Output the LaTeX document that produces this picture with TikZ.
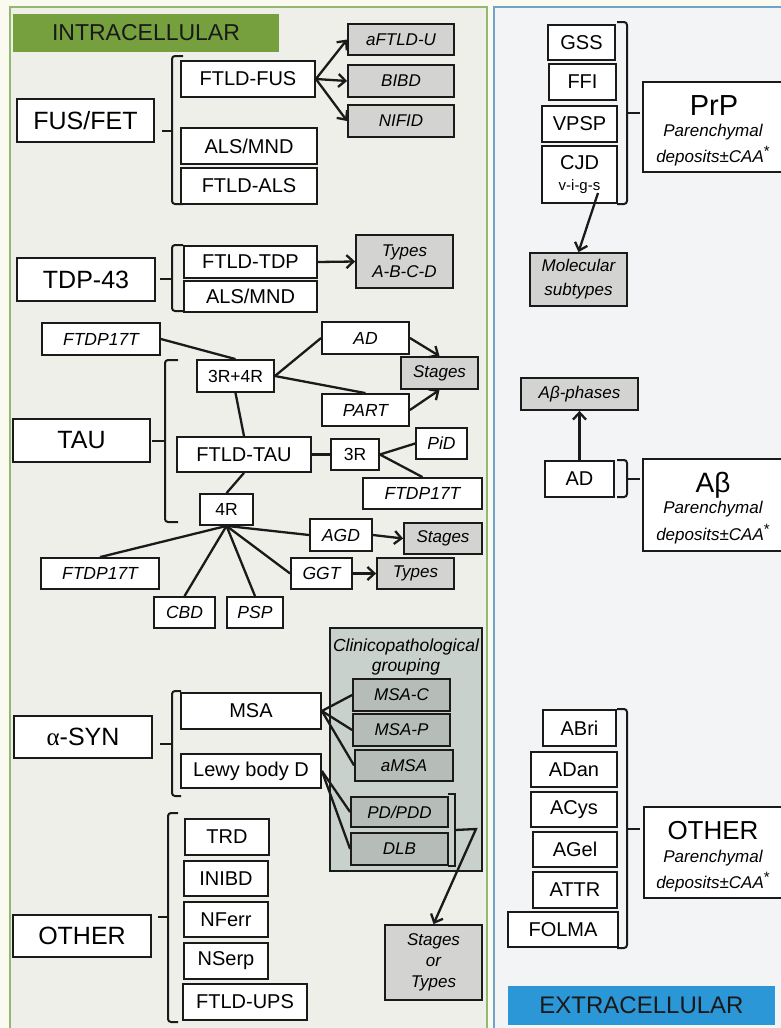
\documentclass[tikz,border=0pt]{standalone}
\usepackage{fontspec}
\setmainfont{Liberation Sans}
\newfontfamily\grk{Liberation Serif}
\usetikzlibrary{arrows.meta,calc}
\definecolor{ink}{HTML}{1A1A1A}
\definecolor{cream}{HTML}{FBFAF0}
\definecolor{lpanel}{HTML}{EEEFE9}
\definecolor{lborder}{HTML}{93B872}
\definecolor{rpanel}{HTML}{F3F4F6}
\definecolor{rborder}{HTML}{6FA3C9}
\definecolor{hgreen}{HTML}{76A03D}
\definecolor{hblue}{HTML}{2C97D7}
\definecolor{graybox}{HTML}{D3D3D1}
\definecolor{clinfill}{HTML}{C8D1CB}
\definecolor{clinbox}{HTML}{B6BDB8}
\newcommand\fs[2]{\fontsize{#1}{#2}\selectfont}
\newcommand\caast{\raisebox{6pt}{\upshape\fs{15}{15}*}}
\begin{document}
\begin{tikzpicture}[x=1pt,y=-1pt,
  bx/.style={draw=ink, line width=1.8pt, fill=white, inner sep=0pt, font=\fs{20}{24}},
  big/.style={bx, font=\fs{25}{28}},
  ibx/.style={bx, font=\fs{17.5}{21}\itshape},
  gbx/.style={bx, fill=graybox, font=\fs{17}{21}\itshape},
  cbx/.style={bx, fill=clinbox, font=\fs{17}{21}\itshape},
  ln/.style={draw=ink, line width=2.3pt},
  arr/.style={ln, -{Straight Barb[length=7pt,width=13pt]}},
  brk/.style={draw=ink, line width=2pt, rounded corners=3pt},
  txt/.style={inner sep=0pt, anchor=base},
]
\useasboundingbox (0,0) rectangle (781,1028);
% backgrounds
\fill[cream] (0,0) rectangle (781,1028);
\draw[lborder, fill=lpanel, line width=2pt] (10,7) rectangle (487,1035);
\draw[rborder, fill=rpanel, line width=2pt] (494,7) rectangle (790,1035);
\node[fill=hgreen, minimum width=266pt, minimum height=38pt, inner sep=0pt, font=\fs{23}{26}, text=black!90] (hdrL) at (146,33) {INTRACELLULAR};
\node[fill=hblue, minimum width=267pt, minimum height=39pt, inner sep=0pt, font=\fs{24}{26}, text=black!90] (hdrR) at (641.5,1005.5) {EXTRACELLULAR};

% ---------- FUS/FET ----------
\node[big, minimum width=137pt, minimum height=43pt] (fusfet) at (85.5,120.5) {FUS/FET};
\node[bx, minimum width=134pt, minimum height=36pt] (ftldfus) at (248,79) {FTLD-FUS};
\node[bx, minimum width=136pt, minimum height=36pt] (alsmndA) at (249,146) {ALS/MND};
\node[bx, minimum width=136pt, minimum height=36pt] (ftldals) at (249,186) {FTLD-ALS};
\node[gbx, minimum width=106pt, minimum height=31pt] (aftldu) at (401,39.5) {aFTLD-U};
\node[gbx, minimum width=106pt, minimum height=32pt] (bibd) at (401,81) {BIBD};
\node[gbx, minimum width=106pt, minimum height=32pt] (nifid) at (401,121) {NIFID};
\draw[brk] (183,56) -- (172,56) -- (172,204) -- (183,204);
\draw[brk] (162,131) -- (172,131);
\draw[arr] (ftldfus.east) -- (aftldu.west);
\draw[arr] (ftldfus.east) -- (bibd.west);
\draw[arr] (ftldfus.east) -- (nifid.west);

% ---------- TDP-43 ----------
\node[big, minimum width=138pt, minimum height=43pt] (tdp) at (86,279.5) {TDP-43};
\node[bx, minimum width=133pt, minimum height=32pt] (ftldtdp) at (250.5,262) {FTLD-TDP};
\node[bx, minimum width=133pt, minimum height=31pt] (alsmndB) at (250.5,296.5) {ALS/MND};
\node[gbx, align=center, minimum width=97pt, minimum height=53pt] (typesabcd) at (404.5,261.5) {Types\\A-B-C-D};
\draw[brk] (183,245) -- (172,245) -- (172,311) -- (183,311);
\draw[brk] (160,279) -- (172,279);
\draw[arr] (ftldtdp.east) -- (typesabcd.west);

% ---------- TAU ----------
\node[big, minimum width=137pt, minimum height=43pt] (tau) at (81.5,440.5) {TAU};
\node[ibx, minimum width=118pt, minimum height=32pt] (ftdpA) at (101,339) {FTDP17T};
\node[bx, font=\fs{17.5}{21}, minimum width=77pt, minimum height=32pt] (r34) at (235.5,376) {3R+4R};
\node[ibx, minimum width=87pt, minimum height=32pt] (adt) at (365.5,338) {AD};
\node[ibx, minimum width=87pt, minimum height=32pt] (part) at (365.5,410) {PART};
\node[gbx, minimum width=77pt, minimum height=32pt] (stagesA) at (439.5,373) {Stages};
\node[bx, minimum width=134pt, minimum height=35pt] (ftldtau) at (244,454.5) {FTLD-TAU};
\node[bx, font=\fs{17.5}{21}, minimum width=48pt, minimum height=31pt] (rthree) at (355,454.5) {3R};
\node[ibx, minimum width=51pt, minimum height=31pt] (pid) at (441.5,443.5) {PiD};
\node[ibx, minimum width=119pt, minimum height=31pt] (ftdpB) at (422.5,493.5) {FTDP17T};
\node[bx, font=\fs{17.5}{21}, minimum width=53pt, minimum height=31pt] (rfour) at (226.5,509.5) {4R};
\node[ibx, minimum width=62pt, minimum height=32pt] (agd) at (341,535) {AGD};
\node[gbx, minimum width=78pt, minimum height=31pt] (stagesB) at (443,538.5) {Stages};
\node[ibx, minimum width=61pt, minimum height=31pt] (ggt) at (321.5,573.5) {GGT};
\node[gbx, minimum width=77pt, minimum height=31pt] (typesB) at (415.5,573.5) {Types};
\node[ibx, minimum width=118pt, minimum height=31pt] (ftdpC) at (100,573.5) {FTDP17T};
\node[ibx, minimum width=61pt, minimum height=31pt] (cbd) at (184.5,612.5) {CBD};
\node[ibx, minimum width=56pt, minimum height=31pt] (psp) at (255,612.5) {PSP};
\draw[brk] (178,360) -- (165,360) -- (165,522) -- (178,522);
\draw[brk] (152,441) -- (165,441);
\draw[ln] (ftdpA.east) -- (r34.north);
\draw[ln] (r34.east) -- (adt.west);
\draw[ln] (r34.east) -- (part.north);
\draw[arr] (adt.east) -- (stagesA.north);
\draw[arr] (part.east) -- (stagesA.south);
\draw[ln] (r34.south) -- (ftldtau.north);
\draw[ln] (ftldtau.east) -- (rthree.west);
\draw[ln] (rthree.east) -- (pid.west);
\draw[ln] (rthree.east) -- (ftdpB.north);
\draw[ln] (ftldtau.south) -- (rfour.north);
\draw[ln] (rfour.south) -- (ftdpC.north);
\draw[ln] (rfour.south) -- (cbd.north);
\draw[ln] (rfour.south) -- (psp.north);
\draw[ln] (rfour.south) -- (ggt.west);
\draw[ln] (rfour.south) -- (agd.west);
\draw[arr] (agd.east) -- (stagesB.west);
\draw[arr] (ggt.east) -- (typesB.west);

% ---------- alpha-SYN ----------
\node[draw=ink, line width=1.8pt, fill=clinfill, minimum width=152pt, minimum height=243pt, inner sep=0pt] (clin) at (406,749.5) {};
\node[txt, font=\fs{17.5}{21}\itshape] (clinA) at (406,651) {Clinicopathological};
\node[txt, font=\fs{17.5}{21}\itshape] (clinB) at (406,671) {grouping};
\node[big, minimum width=138pt, minimum height=42pt] (asyn) at (83,737) {{\grk α}-SYN};
\node[bx, minimum width=140pt, minimum height=36pt] (msa) at (251,711) {MSA};
\node[bx, minimum width=140pt, minimum height=34pt] (lewy) at (251,771) {Lewy body D};
\node[cbx, minimum width=97pt, minimum height=32pt] (msac) at (401.5,695) {MSA-C};
\node[cbx, minimum width=97pt, minimum height=32pt] (msap) at (401.5,730) {MSA-P};
\node[cbx, minimum width=98pt, minimum height=31pt] (amsa) at (404,765.5) {aMSA};
\node[cbx, minimum width=97pt, minimum height=30pt] (pdpdd) at (399.5,812) {PD/PDD};
\node[cbx, minimum width=97pt, minimum height=32pt] (dlb) at (399.5,849) {DLB};
\node[gbx, align=center, minimum width=97pt, minimum height=75pt] (sot) at (433.5,962.5) {Stages\\or\\Types};
\draw[brk] (181,691) -- (172,691) -- (172,796) -- (181,796);
\draw[brk] (160,744) -- (172,744);
\draw[ln] (msa.east) -- (msac.west);
\draw[ln] (msa.east) -- (msap.west);
\draw[ln] (msa.east) -- (amsa.west);
\draw[ln] (lewy.east) -- (pdpdd.west);
\draw[ln] (lewy.east) -- (dlb.west);
\draw[draw=ink, line width=1.8pt] (448,794) -- (455,794) -- (455,866) -- (448,866);
\coordinate (pdb) at (455,830);
\coordinate (pdk) at (476,829);
\draw[arr] (pdb) -- (pdk) -- (sot.north);

% ---------- OTHER (intracellular) ----------
\node[big, minimum width=138pt, minimum height=42pt] (otherL) at (82,936) {OTHER};
\node[bx, minimum width=84pt, minimum height=36pt] (trd) at (227,837) {TRD};
\node[bx, minimum width=84pt, minimum height=35pt] (inibd) at (226,878.5) {INIBD};
\node[bx, minimum width=84pt, minimum height=35pt] (nferr) at (226,919.5) {NFerr};
\node[bx, minimum width=84pt, minimum height=36pt] (nserp) at (226,961) {NSerp};
\node[bx, minimum width=124pt, minimum height=36pt] (ftldups) at (245,1002) {FTLD-UPS};
\draw[brk] (178,813) -- (168,813) -- (168,1022) -- (178,1022);
\draw[brk] (158,917) -- (168,917);

% ---------- PrP ----------
\node[bx, minimum width=67pt, minimum height=35pt] (gss) at (581.5,42.5) {GSS};
\node[bx, minimum width=67pt, minimum height=36pt] (ffi) at (582.5,82) {FFI};
\node[bx, minimum width=75pt, minimum height=36pt] (vpsp) at (579.5,124) {VPSP};
\node[bx, align=center, minimum width=75pt, minimum height=57pt] (cjd) at (579.5,174.5) {CJD\\[-3pt]{\fs{15}{18}v-i-g-s}};
\node[bx, minimum width=139pt, minimum height=90pt] (prp) at (712.5,127) {};
\node[txt, font=\fs{29}{30}] (prpA) at (714,115) {PrP};
\node[txt, font=\fs{17}{20}\itshape] (prpB) at (713,136) {Parenchymal};
\node[txt, font=\fs{17}{20}\itshape] (prpC) at (713,162) {deposits±CAA\caast};
\node[gbx, align=center, minimum width=97pt, minimum height=53pt, font=\fs{17}{24}\itshape] (molsub) at (578.5,279.5) {Molecular\\subtypes};
\draw[brk] (617,22) -- (627,22) -- (627,204) -- (617,204);
\draw[brk] (627,113) -- (640,113);
\coordinate (cjdb) at (598,193);
\draw[arr] (cjdb) -- (molsub.north);

% ---------- Abeta ----------
\node[gbx, minimum width=117pt, minimum height=32pt] (abph) at (579.5,394) {Aβ-phases};
\node[bx, minimum width=69pt, minimum height=36pt] (adr) at (579.5,479) {AD};
\node[bx, minimum width=139pt, minimum height=92pt] (abeta) at (712.5,505) {};
\node[txt, font=\fs{28}{30}] (abA) at (713,492) {Aβ};
\node[txt, font=\fs{17}{20}\itshape] (abB) at (713,513) {Parenchymal};
\node[txt, font=\fs{17}{20}\itshape] (abC) at (713,540) {deposits±CAA\caast};
\draw[brk] (617,460) -- (627,460) -- (627,497) -- (617,497);
\draw[brk] (627,479) -- (640,479);
\draw[arr] (adr.north) -- (abph.south);

% ---------- OTHER (extracellular) ----------
\node[bx, minimum width=73pt, minimum height=36pt] (abri) at (579.5,728) {ABri};
\node[bx, minimum width=86pt, minimum height=35pt] (adan) at (574,769.5) {ADan};
\node[bx, minimum width=86pt, minimum height=35pt] (acys) at (574,809.5) {ACys};
\node[bx, minimum width=84pt, minimum height=35pt] (agel) at (575,849.5) {AGel};
\node[bx, minimum width=84pt, minimum height=36pt] (attr) at (575,890) {ATTR};
\node[bx, minimum width=110pt, minimum height=35pt] (folma) at (563,929.5) {FOLMA};
\node[bx, minimum width=138pt, minimum height=91pt] (otherR) at (713,852.5) {};
\node[txt, font=\fs{26}{28}] (orA) at (713,839) {OTHER};
\node[txt, font=\fs{17}{20}\itshape] (orB) at (713,862) {Parenchymal};
\node[txt, font=\fs{17}{20}\itshape] (orC) at (713,888) {deposits±CAA\caast};
\draw[brk] (617,709) -- (627,709) -- (627,948) -- (617,948);
\draw[brk] (627,829) -- (640,829);
\end{tikzpicture}
\end{document}
